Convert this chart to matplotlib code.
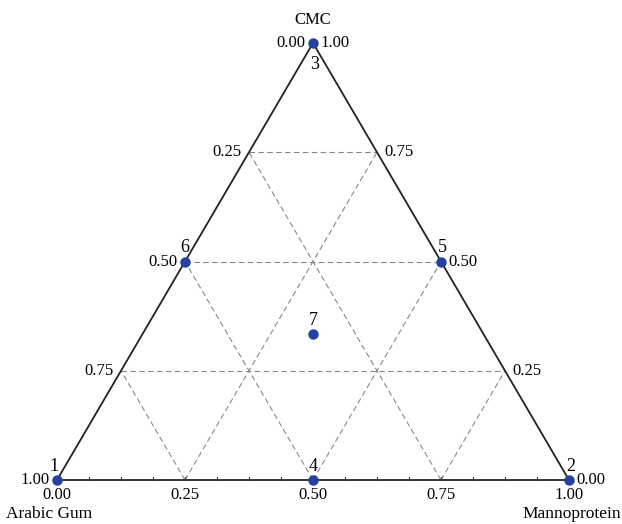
import numpy as np
import matplotlib.pyplot as plt

plt.rcParams['font.family'] = ['Liberation Serif', 'DejaVu Serif']

# design points: fractions (Arabic Gum, Mannoprotein, CMC)
run_ids = ['1', '2', '3', '4', '5', '6', '7']
arabic = [1.0, 0.0, 0.0, 0.5, 0.0, 0.5, 1 / 3]
manno = [0.0, 1.0, 0.0, 0.5, 0.5, 0.0, 1 / 3]
cmc = [0.0, 0.0, 1.0, 0.0, 0.5, 0.5, 1 / 3]

grid_levels = [0.25, 0.50, 0.75]
tick_labels = ['0.00', '0.25', '0.50', '0.75', '1.00']
tick_values = [0.0, 0.25, 0.5, 0.75, 1.0]


def to_xy(b, c):
    return b + c / 2.0, c


fig = plt.figure(figsize=(6.22, 5.24), dpi=100)
ax = fig.add_axes([0, 0, 1, 1])
ax.set_xlim(-57 / 512, 565 / 512)
ax.set_ylim(-44 / 437, 480 / 437)
ax.axis('off')

# dashed grid
gkw = dict(color='#888888', lw=0.8, ls=(0, (5, 3)), zorder=1)
for g in grid_levels:
    # CMC constant (horizontal)
    x0, y0 = to_xy(0, g)
    x1, y1 = to_xy(1 - g, g)
    ax.plot([x0, x1], [y0, y1], **gkw)
    # Mannoprotein constant
    x0, y0 = to_xy(g, 0)
    x1, y1 = to_xy(g, 1 - g)
    ax.plot([x0, x1], [y0, y1], **gkw)
    # Arabic gum constant
    x0, y0 = to_xy(1 - g, 0)
    x1, y1 = to_xy(0, 1 - g)
    ax.plot([x0, x1], [y0, y1], **gkw)

# triangle
tx = [0, 1, 0.5, 0]
ty = [0, 0, 1, 0]
ax.plot(tx, ty, color='#222222', lw=1.3, zorder=2)

# small ticks on the bottom edge
for t in np.arange(1, 16) / 16:
    ax.plot([t, t], [0, 0.008], color='#444444', lw=0.8, zorder=2)

fs = 12
# bottom axis labels (Mannoprotein)
for v, s in zip(tick_values, tick_labels):
    ax.text(v, -0.017, s, ha='center', va='top', fontsize=fs)
# left side labels (Arabic Gum)
for v, s in zip(tick_values, tick_labels):
    x, y = to_xy(0, 1 - v)
    ax.text(x - 0.014, y, s, ha='right', va='center', fontsize=fs)
# right side labels (CMC)
for v, s in zip(tick_values, tick_labels):
    x, y = to_xy(1 - v, v)
    ax.text(x + 0.014, y, s, ha='left', va='center', fontsize=fs)

ax.text(0.5, 1.035, 'CMC', ha='center', va='bottom', fontsize=fs)
ax.text(-0.1, -0.06, 'Arabic Gum', ha='left', va='top', fontsize=fs + 0.5)
ax.text(1.101, -0.06, 'Mannoprotein', ha='right', va='top', fontsize=fs + 0.5)

# design points
px, py = to_xy(np.array(manno), np.array(cmc))
ax.plot(px, py, 'o', color='#2540a0', ms=6.5, zorder=4, clip_on=False)

offsets = {'1': (-0.006, 0.032), '2': (0.004, 0.032), '3': (0.003, -0.05),
           '4': (0.0, 0.032), '5': (0.003, 0.032), '6': (0.0, 0.032), '7': (0.0, 0.032)}
for lab, x, y in zip(run_ids, px, py):
    dx, dy = offsets[lab]
    ax.text(x + dx, y + dy, lab, ha='center', va='center', fontsize=fs + 1)

fig.savefig('out.png', dpi=100)
